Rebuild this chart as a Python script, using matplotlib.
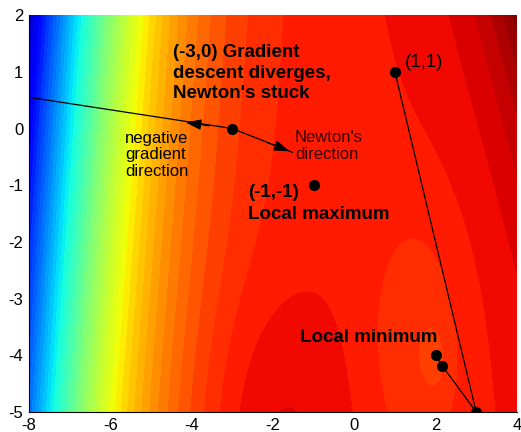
import numpy as np
import matplotlib
matplotlib.use("Agg")
from matplotlib import pyplot as plt

plt.rcParams['font.family'] = ['Liberation Sans', 'DejaVu Sans']
plt.rcParams['axes.unicode_minus'] = False

# axis ranges and ticks
x_range = [-8, 4]
y_range = [-5, 2]
x_ticks = [-8, -6, -4, -2, 0, 2, 4]
y_ticks = [-5, -4, -3, -2, -1, 0, 1, 2]

# paths drawn on the picture
grad_x = [-3, -8]          # gradient descent from (-3,0), diverging
grad_y = [0, 0.55]
newton_x = [-3, -1.52]     # Newton's direction from (-3,0)
newton_y = [0, -0.42]
path_x = [1, 3, 2.17, 2.0]  # run started at (1,1)
path_y = [1, -5, -4.19, -4.0]
pts_x = [-3, -1, 1, 3, 2.17, 2.0]
pts_y = [0, -1, 1, -5, -4.19, -4.0]


def surface(x, y):
    # shaded background, rough fit of the colours
    d = x - 0.1 * y + 7.8
    c = 0.885 - 0.725 * np.exp(-(0.33 * d + 0.055 * d * np.abs(d)))
    c += 0.115 * np.exp((x - 4) / 1.1 + (y - 2) / 3.0)
    c -= 0.035 * np.exp(-((x - 1.55) / 1.2) ** 2 - ((y + 3.8) / 2.3) ** 2)
    c -= 0.015 * np.exp(-((x - 2.05) / 0.35) ** 2 - ((y + 4.1) / 0.7) ** 2)
    c += 0.035 * np.exp(-((x + 2) / 1.8) ** 2 - ((y + 5.5) / 2.6) ** 2)
    return c


gx, gy = np.meshgrid(np.linspace(-8, 4, 400), np.linspace(-5, 2, 300))
gz = surface(gx, gy)

fig = plt.figure(figsize=(5.21, 4.32), dpi=100)
ax = fig.add_axes([0.0557, 0.0463, 0.9363, 0.9187])
ax.contourf(gx, gy, gz, levels=np.arange(-0.01, 1.04, 0.02), cmap='jet',
            norm=plt.Normalize(0, 1), extend='both')

ax.plot(grad_x, grad_y, color='k', lw=0.9)
ax.plot(newton_x, newton_y, color='k', lw=0.9)
ax.plot(path_x, path_y, color='k', lw=0.9)
ax.plot(pts_x, pts_y, 'o', color='k', ms=7)

# arrow heads
head = '-|>,head_length=0.6,head_width=0.2'
ax.annotate('', xy=(-4.22, 0.116), xytext=(-3.5, 0.04),
            arrowprops=dict(arrowstyle=head, color='k', lw=0.9,
                            mutation_scale=16))
ax.annotate('', xy=(newton_x[1], newton_y[1]), xytext=(-2.2, -0.23),
            arrowprops=dict(arrowstyle=head, color='k', lw=0.9,
                            mutation_scale=16))

ax.text(-4.46, 0.977, "(-3,0) Gradient\ndescent diverges,\nNewton's stuck",
        fontsize=13.5, fontweight='bold', va='center', linespacing=1.25)
ax.text(1.24, 1.17, "(1,1)", fontsize=13.5, va='center')
ax.text(-2.62, -1.12, "(-1,-1)", fontsize=13.5, fontweight='bold',
        va='center')
ax.text(-2.62, -1.52, "Local maximum", fontsize=13.5, fontweight='bold',
        va='center')
ax.text(-1.34, -3.68, "Local minimum", fontsize=13.5, fontweight='bold',
        va='center')
ax.text(-5.64, -0.04, "negative\ngradient\ndirection", fontsize=12,
        va='top', linespacing=1.12)
ax.text(-1.46, -0.03, "Newton's\ndirection", fontsize=12, va='top',
        linespacing=1.12, color='#300000')

ax.set_xlim(x_range)
ax.set_ylim(y_range)
ax.set_xticks(x_ticks)
ax.set_yticks(y_ticks)
ax.tick_params(length=0, labelsize=12, pad=4)
ax.spines['top'].set_visible(False)
ax.spines['right'].set_visible(False)

fig.savefig('out.png', dpi=100)
